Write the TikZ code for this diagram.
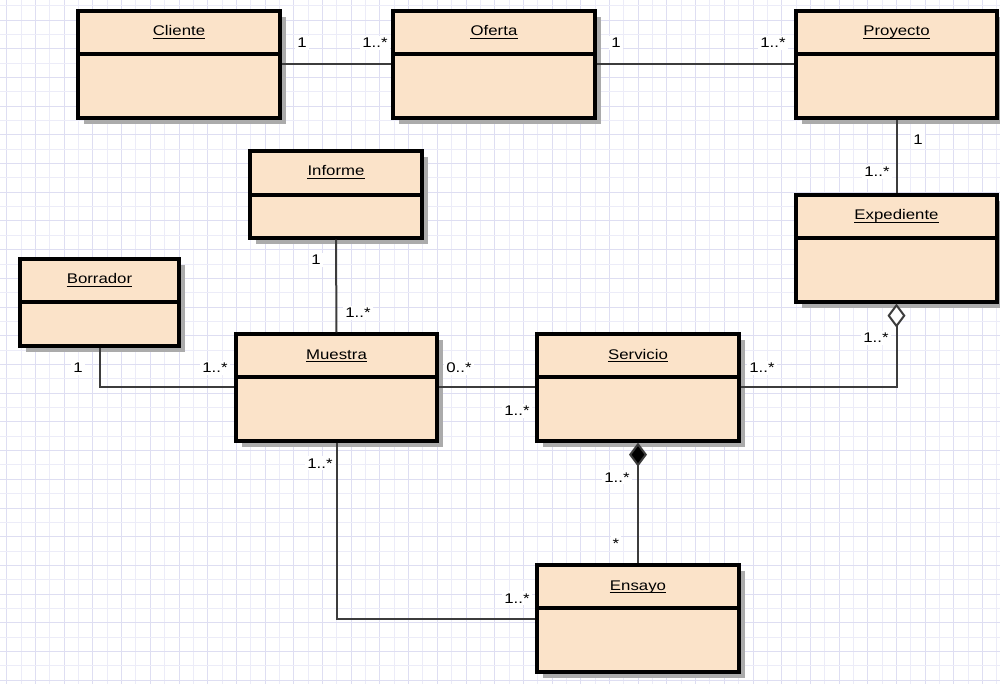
\documentclass[tikz,border=0pt]{standalone}
\usepackage{fontspec}
\usepackage{graphicx}
\setmainfont{Liberation Sans}
\usetikzlibrary{arrows.meta,fit}
\definecolor{classfill}{HTML}{FBE3C9}
\definecolor{gridminor}{HTML}{ECECF8}
\definecolor{gridmajor}{HTML}{DEDEF2}
\definecolor{linec}{HTML}{3C3C3C}
\definecolor{shadowc}{HTML}{ABABAB}
\newcommand\wide[1]{\scalebox{1.2}[1]{#1}}
\tikzset{
  classbox/.style={draw=black, line width=2.4pt, fill=classfill, inner sep=0pt},
  classdiv/.style={draw=black, line width=2.4pt},
  shadowbox/.style={fill=shadowc},
  titletext/.style={font=\fontsize{10.5}{13}\selectfont, inner sep=0pt, anchor=base},
  uline/.style={draw=black, line width=0.9pt},
  assoc/.style={draw=linec, line width=1.5pt},
  mult/.style={font=\fontsize{10.5}{13}\selectfont, fill=white, inner sep=1.5pt, anchor=base},
  gridline/.style={line width=0.6pt}
}
\newcommand\umlclass[7]{%
  \fill[shadowbox] (#2+6,#3+6) rectangle (#4+6,#5+6);
  \node[classbox, fit={(#2,#3) (#4,#5)}] (#1) {};
  \draw[classdiv] (#2,#6) -- (#4,#6);
  \node[titletext] (#1-t) at ({(#2+#4)/2},{#3+25}) {\wide{#7}};
  \draw[uline] ([yshift=-1.6pt]#1-t.base west) -- ([yshift=-1.6pt]#1-t.base east);
}
\begin{document}
\begin{tikzpicture}[x=0.75pt,y=-0.75pt]
\useasboundingbox (0,0) rectangle (1000,684);
\fill[white] (0,0) rectangle (1000,684);
% grid
\foreach \k in {0,...,69} {
  \pgfmathsetmacro\xx{6.7+14.35*\k}
  \pgfmathtruncatemacro\pty{mod(\k,2)}
  \ifnum\pty=0 \draw[gridline, gridmajor] (\xx,0) -- (\xx,684);
  \else \draw[gridline, gridminor] (\xx,0) -- (\xx,684); \fi
}
\foreach \k in {-2,...,47} {
  \pgfmathsetmacro\yy{20+14.35*\k}
  \pgfmathtruncatemacro\pty{mod(\k+4,2)}
  \ifnum\pty=0 \draw[gridline, gridmajor] (0,\yy) -- (1000,\yy);
  \else \draw[gridline, gridminor] (0,\yy) -- (1000,\yy); \fi
}
% classes
\umlclass{cliente}{78}{11}{280}{118}{54}{Cliente}
\umlclass{oferta}{393}{11}{595}{118}{54}{Oferta}
\umlclass{proyecto}{796}{11}{997}{118}{54}{Proyecto}
\umlclass{informe}{250}{151}{422}{238}{195}{Informe}
\umlclass{expediente}{796}{195}{997}{302}{238}{Expediente}
\umlclass{borrador}{20}{259}{179}{346}{302}{Borrador}
\umlclass{muestra}{236}{334}{437}{441}{377}{Muestra}
\umlclass{servicio}{537}{334}{739}{441}{377}{Servicio}
\umlclass{ensayo}{537}{565}{739}{672}{608}{Ensayo}
% connectors
\draw[assoc] (cliente.east) -- (oferta.west);
\draw[assoc] (oferta.east) -- (proyecto.west);
\draw[assoc] (proyecto.south) -- (expediente.north);
\draw[assoc] (informe.south) -- (muestra.north);
\draw[assoc] (borrador.south) |- (muestra.west);
\draw[assoc] (muestra.east) -- (servicio.west);
\draw[assoc, -{Diamond[open, fill=white, length=18pt, width=13.5pt, line width=1.5pt]}] (servicio.east) -| (expediente.south);
\draw[assoc, -{Diamond[fill=black, length=18pt, width=13.5pt]}] (ensayo.north) -- (servicio.south);
\draw[assoc] (muestra.south) |- (ensayo.west);
% multiplicities
\node[mult] (m1) at (302,48) {\wide{1}};
\node[mult] (m2) at (375,48) {\wide{1..*}};
\node[mult] (m3) at (616,48) {\wide{1}};
\node[mult] (m4) at (773,48) {\wide{1..*}};
\node[mult] (m5) at (918,145) {\wide{1}};
\node[mult] (m6) at (877,177) {\wide{1..*}};
\node[mult] (m7) at (316,265) {\wide{1}};
\node[mult] (m8) at (358,318) {\wide{1..*}};
\node[mult] (m9) at (78,373) {\wide{1}};
\node[mult] (m10) at (215,373) {\wide{1..*}};
\node[mult] (m11) at (459,373) {\wide{0..*}};
\node[mult] (m12) at (517,416) {\wide{1..*}};
\node[mult] (m13) at (762,373) {\wide{1..*}};
\node[mult] (m14) at (876,343) {\wide{1..*}};
\node[mult] (m15) at (617,482) {\wide{1..*}};
\node[mult] (m16) at (616,548) {\wide{*}};
\node[mult] (m17) at (320,468) {\wide{1..*}};
\node[mult] (m18) at (517,603) {\wide{1..*}};
\end{tikzpicture}
\end{document}
